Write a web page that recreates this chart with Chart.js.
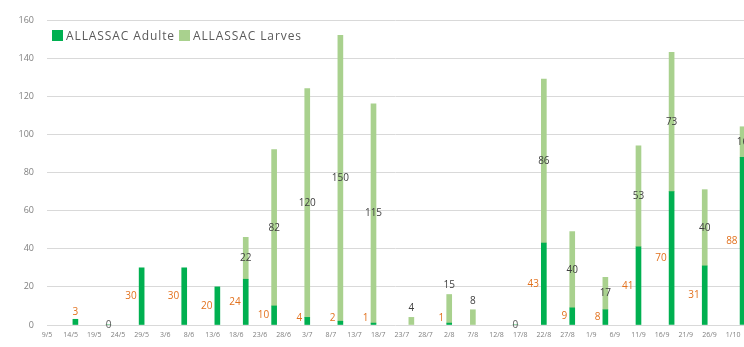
<!DOCTYPE html>
<html>
<head>
<meta charset="utf-8">
<script src="https://cdn.jsdelivr.net/npm/chart.js@4/dist/chart.umd.min.js"></script>
<style>
  html, body { margin: 0; padding: 0; background: #fff; }
  #wrap { position: relative; width: 744px; height: 347px; overflow: hidden; }
  #legend { position: absolute; left: 52px; top: 27px; font: 12px 'Open Sans', sans-serif; color: #595959;
            letter-spacing: 0.9px; display: flex; align-items: center; white-space: nowrap; }
  .sw { display: inline-block; width: 11px; height: 11px; margin-right: 3px; }
</style>
</head>
<body>
<div id="wrap">
  <canvas id="c" width="744" height="347"></canvas>
  <div id="legend">
    <span class="sw" style="background:#00B050"></span>ALLASSAC Adulte
    <span class="sw" style="background:#A9D18E;margin-left:4px"></span>ALLASSAC Larves
  </div>
</div>
<script>
// Sampling dates (day/month) and counts per sample
const sampleDates = ['15/5','22/5','29/5','7/6','14/6','20/6','26/6','3/7','10/7','17/7','25/7',
                     '2/8','7/8','16/8','22/8','28/8','4/9','11/9','18/9','25/9','3/10'];
const adulte = [3, 0, 30, 30, 20, 24, 10, 4, 2, 1, null, 1, null, 0, 43, 9, 8, 41, 70, 31, 88];
const larves = [null, 0, null, null, null, 22, 82, 120, 150, 115, 4, 15, 8, 0, 86, 40, 17, 53, 73, 40, 16];

// Axis tick labels, every 5 days from 9/5
const tickLabels = ['9/5','14/5','19/5','24/5','29/5','3/6','8/6','13/6','18/6','23/6','28/6','3/7',
                    '8/7','13/7','18/7','23/7','28/7','2/8','7/8','12/8','17/8','22/8','27/8','1/9',
                    '6/9','11/9','16/9','21/9','26/9','1/10'];
const yTicks = [0, 20, 40, 60, 80, 100, 120, 140, 160];

const GREEN_DARK = '#00B050';
const GREEN_LIGHT = '#A9D18E';
const ORANGE = '#E2711D';
const DARK = '#404040';

// day offset of a "d/m" string from 9 May
const monthStart = { 5: 0, 6: 31, 7: 61, 8: 92, 9: 123, 10: 153 };
function dayOf(s) {
  const [d, m] = s.split('/').map(Number);
  return monthStart[m] + d - 9;
}

const adultPts = sampleDates.map((d, i) => ({ x: dayOf(d), y: adulte[i] }));
const larvePts = sampleDates.map((d, i) => ({ x: dayOf(d), y: larves[i] }));

// value labels: adults to the left of the bar, larvae centred on their segment
const valueLabels = {
  id: 'valueLabels',
  afterDatasetsDraw(chart) {
    const ctx = chart.ctx, xs = chart.scales.x, ys = chart.scales.y;
    const y0 = ys.getPixelForValue(0);
    ctx.save();
    ctx.font = '10px "Open Sans", sans-serif';
    ctx.textBaseline = 'middle';
    sampleDates.forEach((d, i) => {
      const x = xs.getPixelForValue(dayOf(d));
      const a = adulte[i], l = larves[i];
      if (a === 0 && l === 0) {
        ctx.fillStyle = '#595959';
        ctx.textAlign = 'center';
        ctx.fillText('0', x, y0);
        return;
      }
      if (a !== null) {
        const top = ys.getPixelForValue(a);
        ctx.fillStyle = ORANGE;
        if (l === null && y0 - top < 20) {
          ctx.textAlign = 'center';
          ctx.fillText(String(a), x, top - 7);
        } else {
          const yc = Math.min(ys.getPixelForValue(a / 2), y0 - 7);
          ctx.textAlign = 'right';
          ctx.fillText(String(a), x - 5, yc);
        }
      }
      if (l !== null) {
        const base = a || 0;
        const top = ys.getPixelForValue(base + l), bot = ys.getPixelForValue(base);
        let yc = (top + bot) / 2;
        if (bot - top < 30) yc = top - 9;
        ctx.fillStyle = DARK;
        ctx.textAlign = 'center';
        ctx.fillText(String(l), x, yc);
      }
    });
    ctx.restore();
  }
};

new Chart(document.getElementById('c'), {
  type: 'bar',
  data: {
    datasets: [
      { label: 'ALLASSAC Adulte', data: adultPts, backgroundColor: GREEN_DARK, barThickness: 5 },
      { label: 'ALLASSAC Larves', data: larvePts, backgroundColor: GREEN_LIGHT, barThickness: 5 }
    ]
  },
  options: {
    responsive: false,
    animation: false,
    devicePixelRatio: 1,
    layout: { padding: { top: 20, right: 0, left: 0, bottom: 0 } },
    plugins: { legend: { display: false }, tooltip: { enabled: false } },
    scales: {
      x: {
        type: 'linear', stacked: true, min: 0, max: 147.3, offset: false,
        afterFit: s => { s.height = 22; s.paddingLeft = 0; s.paddingRight = 0; },
        grid: { display: false, drawTicks: false, offset: false },
        border: { display: false },
        afterBuildTicks: s => { s.ticks = tickLabels.map((_, k) => ({ value: k * 5 })); },
        ticks: {
          autoSkip: false, maxRotation: 0, padding: 6,
          font: { family: 'Open Sans', size: 7 }, color: '#7f7f7f',
          callback: v => tickLabels[Math.round(v / 5)]
        }
      },
      y: {
        stacked: true, min: 0, max: 160,
        afterFit: s => { s.width = 47; s.paddingTop = 0; s.paddingBottom = 0; },
        afterBuildTicks: s => { s.ticks = yTicks.map(v => ({ value: v })); },
        grid: { color: '#D9D9D9', drawTicks: false },
        border: { display: false },
        ticks: { padding: 13, font: { family: 'Open Sans', size: 9 }, color: '#7f7f7f' }
      }
    }
  },
  plugins: [valueLabels]
});
</script>
</body>
</html>
